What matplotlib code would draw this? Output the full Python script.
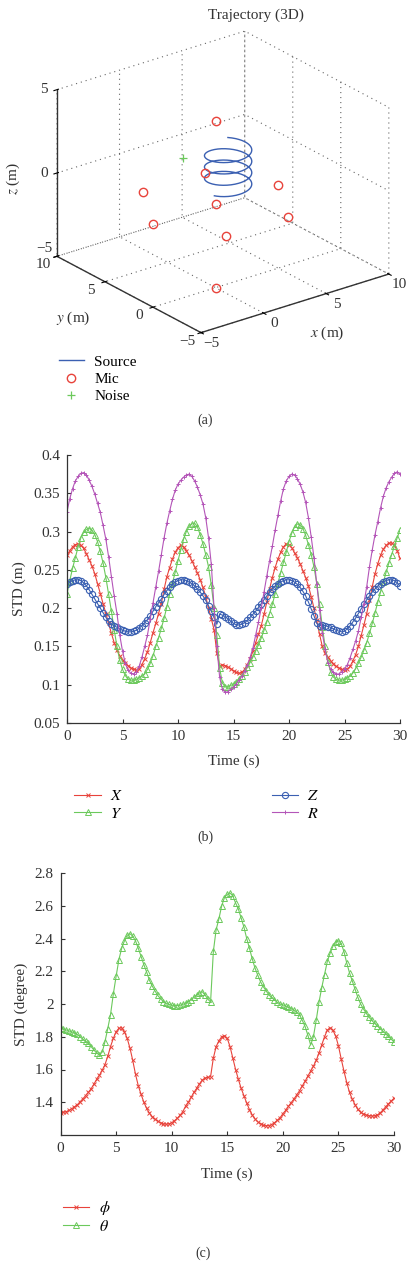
import numpy as np
import matplotlib.pyplot as plt
from matplotlib.ticker import FormatStrFormatter, NullFormatter
from mpl_toolkits.mplot3d import proj3d

plt.rcParams['font.family'] = ['Liberation Serif', 'DejaVu Serif']
plt.rcParams['mathtext.fontset'] = 'stix'
plt.rcParams['font.size'] = 11
plt.rcParams['grid.linestyle'] = (0, (1, 3.5))
plt.rcParams['grid.color'] = '0.4'
plt.rcParams['grid.linewidth'] = 0.8

RED = '#e8433b'
GREEN = '#6cc95c'
BLUE = '#3b60b2'
PURPLE = '#b455b8'
TXT = '#333333'

# ---- (a) geometrie 3D ----
mic_x = [5, 2.5, -2.5, -5, -2.5, 2.5, 0, 0, 0]
mic_y = [0, 4.33, 4.33, 0, -4.33, -4.33, 0, 0, 0]
mic_z = [0, 0, 0, 0, 0, 0, 0, 5, -5]
noise_pos = (2.0, 6.0, 0.5)
# helice de la source : centre, rayon, hauteurs, nombre de tours
src_center = (1.0, 0.0)
src_radius = 1.5
src_z = (3.2, 0.75)
src_turns = 3.6
src_start_deg = 53
xy_ticks = [-5, 0, 5, 10]
z_ticks = [-5, 0, 5]

# ---- (b) STD position (m), pas de 0.25 s ----
t = np.linspace(0, 30, 121)
std_x = [0.269, 0.275, 0.280, 0.283, 0.284, 0.282, 0.278, 0.271, 0.263, 0.255, 0.245, 0.232, 0.219, 0.206, 0.193, 0.180,
         0.167, 0.155, 0.145, 0.138, 0.132, 0.128, 0.125, 0.122, 0.120, 0.119, 0.121, 0.126, 0.134, 0.143, 0.155, 0.168,
         0.180, 0.193, 0.206, 0.225, 0.241, 0.253, 0.264, 0.273, 0.279, 0.282, 0.280, 0.275, 0.269, 0.262, 0.254, 0.246,
         0.237, 0.227, 0.215, 0.200, 0.186, 0.172, 0.141, 0.125, 0.126, 0.125, 0.123, 0.121, 0.118, 0.116, 0.115, 0.116,
         0.120, 0.126, 0.133, 0.144, 0.155, 0.166, 0.177, 0.192, 0.208, 0.225, 0.240, 0.253, 0.264, 0.273, 0.280, 0.284,
         0.283, 0.279, 0.272, 0.266, 0.258, 0.249, 0.240, 0.229, 0.215, 0.200, 0.184, 0.166, 0.150, 0.141, 0.136, 0.131,
         0.127, 0.124, 0.122, 0.120, 0.119, 0.120, 0.124, 0.131, 0.139, 0.150, 0.164, 0.178, 0.193, 0.210, 0.228, 0.245,
         0.258, 0.269, 0.277, 0.282, 0.285, 0.285, 0.282, 0.275, 0.265]
std_y = [0.219, 0.236, 0.252, 0.266, 0.280, 0.292, 0.299, 0.303, 0.304, 0.302, 0.296, 0.287, 0.274, 0.259, 0.240, 0.218,
         0.196, 0.172, 0.150, 0.132, 0.120, 0.112, 0.107, 0.106, 0.106, 0.107, 0.109, 0.111, 0.114, 0.120, 0.128, 0.138,
         0.150, 0.161, 0.174, 0.187, 0.202, 0.218, 0.233, 0.247, 0.262, 0.276, 0.290, 0.300, 0.307, 0.310, 0.311, 0.306,
         0.296, 0.284, 0.270, 0.254, 0.230, 0.200, 0.165, 0.122, 0.102, 0.097, 0.097, 0.099, 0.101, 0.104, 0.108, 0.112,
         0.117, 0.123, 0.129, 0.136, 0.144, 0.152, 0.161, 0.171, 0.182, 0.193, 0.205, 0.219, 0.233, 0.246, 0.260, 0.273,
         0.287, 0.298, 0.306, 0.310, 0.309, 0.304, 0.295, 0.283, 0.270, 0.254, 0.232, 0.205, 0.176, 0.150, 0.130, 0.117,
         0.110, 0.107, 0.106, 0.106, 0.107, 0.109, 0.111, 0.115, 0.121, 0.128, 0.136, 0.145, 0.155, 0.167, 0.180, 0.194,
         0.208, 0.221, 0.234, 0.247, 0.259, 0.270, 0.281, 0.292, 0.302]
std_z = [0.231, 0.234, 0.236, 0.237, 0.237, 0.236, 0.233, 0.229, 0.224, 0.218, 0.212, 0.206, 0.200, 0.194, 0.188, 0.183,
         0.179, 0.177, 0.175, 0.173, 0.171, 0.170, 0.169, 0.169, 0.170, 0.171, 0.174, 0.177, 0.181, 0.185, 0.190, 0.196,
         0.202, 0.207, 0.212, 0.218, 0.223, 0.227, 0.231, 0.234, 0.236, 0.237, 0.237, 0.236, 0.234, 0.232, 0.229, 0.225,
         0.221, 0.216, 0.210, 0.203, 0.196, 0.188, 0.179, 0.192, 0.191, 0.189, 0.186, 0.183, 0.180, 0.178, 0.178, 0.179,
         0.181, 0.184, 0.188, 0.192, 0.196, 0.201, 0.206, 0.211, 0.216, 0.221, 0.225, 0.229, 0.232, 0.234, 0.236, 0.237,
         0.237, 0.236, 0.234, 0.231, 0.227, 0.222, 0.216, 0.208, 0.199, 0.190, 0.180, 0.177, 0.178, 0.177, 0.176, 0.175,
         0.173, 0.171, 0.170, 0.169, 0.170, 0.173, 0.177, 0.182, 0.187, 0.193, 0.199, 0.205, 0.211, 0.216, 0.221, 0.225,
         0.229, 0.232, 0.234, 0.236, 0.237, 0.237, 0.236, 0.233, 0.229]
std_r = [0.326, 0.343, 0.356, 0.366, 0.372, 0.376, 0.377, 0.374, 0.367, 0.359, 0.349, 0.337, 0.325, 0.308, 0.290, 0.267,
         0.241, 0.216, 0.193, 0.165, 0.144, 0.128, 0.119, 0.115, 0.114, 0.117, 0.124, 0.136, 0.150, 0.165, 0.186, 0.207,
         0.228, 0.248, 0.270, 0.292, 0.311, 0.327, 0.342, 0.354, 0.362, 0.367, 0.371, 0.374, 0.375, 0.372, 0.366, 0.358,
         0.348, 0.336, 0.318, 0.292, 0.257, 0.200, 0.150, 0.110, 0.094, 0.090, 0.091, 0.094, 0.097, 0.101, 0.106, 0.111,
         0.118, 0.126, 0.136, 0.148, 0.165, 0.182, 0.200, 0.221, 0.242, 0.262, 0.281, 0.302, 0.321, 0.340, 0.356, 0.366,
         0.372, 0.375, 0.374, 0.369, 0.362, 0.352, 0.338, 0.318, 0.293, 0.266, 0.232, 0.198, 0.168, 0.146, 0.129, 0.120,
         0.116, 0.114, 0.114, 0.117, 0.121, 0.126, 0.135, 0.146, 0.157, 0.170, 0.188, 0.206, 0.228, 0.254, 0.276, 0.296,
         0.313, 0.331, 0.346, 0.357, 0.365, 0.371, 0.376, 0.378, 0.375]

# ---- (c) STD angles (degree) ----
std_phi = [1.337, 1.338, 1.342, 1.350, 1.360, 1.372, 1.384, 1.402, 1.420, 1.440, 1.460, 1.482, 1.510, 1.540, 1.565, 1.595,
           1.630, 1.680, 1.740, 1.790, 1.830, 1.852, 1.855, 1.830, 1.790, 1.730, 1.655, 1.570, 1.500, 1.448, 1.400, 1.362,
           1.334, 1.312, 1.297, 1.284, 1.274, 1.268, 1.266, 1.268, 1.275, 1.287, 1.302, 1.320, 1.342, 1.376, 1.400, 1.430,
           1.460, 1.485, 1.512, 1.535, 1.548, 1.552, 1.556, 1.670, 1.740, 1.775, 1.800, 1.805, 1.790, 1.740, 1.670, 1.600,
           1.540, 1.485, 1.440, 1.395, 1.355, 1.322, 1.298, 1.280, 1.268, 1.260, 1.257, 1.258, 1.264, 1.275, 1.290, 1.305,
           1.330, 1.350, 1.375, 1.398, 1.420, 1.445, 1.470, 1.500, 1.528, 1.560, 1.590, 1.620, 1.655, 1.700, 1.750, 1.800,
           1.840, 1.855, 1.840, 1.805, 1.745, 1.665, 1.590, 1.520, 1.460, 1.418, 1.385, 1.356, 1.338, 1.328, 1.322, 1.318,
           1.316, 1.317, 1.322, 1.335, 1.352, 1.372, 1.390, 1.408, 1.424]
std_theta = [1.852, 1.848, 1.842, 1.836, 1.830, 1.824, 1.815, 1.800, 1.786, 1.772, 1.760, 1.740, 1.720, 1.700, 1.690, 1.706,
             1.770, 1.850, 1.935, 2.060, 2.168, 2.270, 2.340, 2.385, 2.420, 2.429, 2.415, 2.385, 2.340, 2.290, 2.240, 2.195,
             2.145, 2.110, 2.080, 2.052, 2.032, 2.015, 2.005, 1.998, 1.993, 1.990, 1.990, 1.992, 1.998, 2.005, 2.015, 2.027,
             2.040, 2.055, 2.068, 2.075, 2.055, 2.030, 2.012, 2.321, 2.454, 2.520, 2.600, 2.650, 2.670, 2.678, 2.660, 2.617,
             2.580, 2.525, 2.470, 2.400, 2.340, 2.275, 2.219, 2.175, 2.135, 2.105, 2.080, 2.055, 2.040, 2.025, 2.010, 2.000,
             1.995, 1.988, 1.980, 1.972, 1.964, 1.950, 1.934, 1.900, 1.863, 1.810, 1.750, 1.800, 1.900, 2.010, 2.100, 2.180,
             2.260, 2.310, 2.352, 2.380, 2.386, 2.370, 2.320, 2.250, 2.190, 2.140, 2.090, 2.040, 2.000, 1.970, 1.944, 1.920,
             1.900, 1.882, 1.866, 1.850, 1.834, 1.818, 1.802, 1.786, 1.767]

W, H = 413, 1261
fig = plt.figure(figsize=(W / 100, H / 100), dpi=100)


def rect(x0, y0, x1, y1):
    return [x0 / W, 1 - y1 / H, (x1 - x0) / W, (y1 - y0) / H]


def ftext(x, y, s, **kw):
    fig.text(x / W, 1 - y / H, s, ha='center', va='center', color=TXT, **kw)


def lab(v):
    return f'{v}'.replace('-', '\u2212')


# ================= (a) =================
ax3 = fig.add_axes(rect(18.5, 24.5, 416.5, 348), projection='3d')
ax3.apply_aspect = lambda position=None: None
ax3.set_proj_type('ortho')
ax3.view_init(elev=30, azim=-127.5)
ax3.set_box_aspect((1, 1, 1))

s = np.linspace(0, 1, 400)
ang = np.deg2rad(src_start_deg - 360 * src_turns * s)
ax3.plot(src_center[0] + src_radius * np.cos(ang), src_center[1] + src_radius * np.sin(ang),
         src_z[0] + (src_z[1] - src_z[0]) * s, color=BLUE, lw=1.0, label='Source')
ax3.plot(mic_x, mic_y, mic_z, ls='none', marker='o', ms=6, mfc='none', mec=RED, mew=1.0, label='Mic')
ax3.plot([noise_pos[0]], [noise_pos[1]], [noise_pos[2]], ls='none', marker='+', ms=6, color=GREEN, mew=0.9,
         label='Noise')

ax3.set_xlim(-5, 10)
ax3.set_ylim(-5, 10)
ax3.set_zlim(-5, 5)
ax3.set_xticks(xy_ticks)
ax3.set_yticks(xy_ticks)
ax3.set_zticks(z_ticks)
ax3.tick_params(labelsize=0, pad=0)
for axis in (ax3.xaxis, ax3.yaxis, ax3.zaxis):
    axis.set_major_formatter(NullFormatter())
    axis.set_pane_color((1, 1, 1, 0))
    axis.line.set_color(TXT)
    axis.line.set_linewidth(1.0)

# etiquettes des graduations, a la maniere de MATLAB (projetees en 2D)
M = ax3.get_proj()


def text3(x, y, z, s):
    px, py, _ = proj3d.proj_transform(x, y, z, M)
    ax3.text2D(px, py, s, transform=ax3.transData, ha='center', va='center', color=TXT, fontsize=11)


for v in xy_ticks:
    text3(v, -6.1, -5.3, lab(v))
    text3(-6.1, v, -5.25, lab(v))
for v in z_ticks:
    text3(-5.66, 10.49, v + (0.45 if v == -5 else 0), lab(v))

ftext(256, 15, 'Trajectory (3D)', fontsize=11)
ftext(327, 333, '$x$ (m)', fontsize=11)
ftext(73, 318, '$y$ (m)', fontsize=11)
ftext(13, 178, '$z$ (m)', fontsize=11, rotation=90)

fig.legend(handles=ax3.get_lines(), loc='upper left', bbox_to_anchor=(53 / W, 1 - 349 / H), frameon=False,
           fontsize=11, handlelength=1.6, handletextpad=0.7, labelspacing=0.22, borderaxespad=0)
ftext(205, 420, '(a)', fontsize=10)


def style2d(ax):
    for side in ('top', 'right'):
        ax.spines[side].set_visible(False)
    for side in ('left', 'bottom'):
        ax.spines[side].set_color(TXT)
        ax.spines[side].set_linewidth(0.9)
    ax.tick_params(direction='in', length=3, colors=TXT, labelsize=11, pad=5)


# ================= (b) =================
axb = fig.add_axes(rect(67, 455, 400, 723))
axb.plot(t, std_x, color=RED, lw=0.8, marker='x', ms=2.5, mew=0.7, label='$X$')
axb.plot(t, std_y, color=GREEN, lw=0.8, marker='^', ms=4.5, mfc='none', mew=0.7, label='$Y$')
axb.plot(t, std_z, color=BLUE, lw=0.8, marker='o', ms=4.5, mfc='none', mew=0.8, label='$Z$')
axb.plot(t, std_r, color=PURPLE, lw=0.8, marker='+', ms=3.5, mew=0.7, label='$R$')
axb.set_xlim(0, 30)
axb.set_ylim(0.05, 0.4)
axb.set_xticks(np.arange(0, 31, 5))
axb.set_yticks(np.arange(0.05, 0.401, 0.05))
axb.yaxis.set_major_formatter(FormatStrFormatter('%g'))
style2d(axb)
axb.set_xlabel('Time (s)', color=TXT, labelpad=8)
axb.set_ylabel('STD (m)', color=TXT, labelpad=5)
fig.legend(handles=axb.get_lines(), loc='upper left', bbox_to_anchor=(68 / W, 1 - 782 / H), ncol=2,
           frameon=False, fontsize=11.5, handlelength=1.65, handletextpad=0.55, labelspacing=0.1,
           columnspacing=9.35, borderaxespad=0)
ftext(205, 837, '(b)', fontsize=10)

# ================= (c) =================
axc = fig.add_axes(rect(60.5, 873, 394, 1135))
axc.plot(t, std_phi, color=RED, lw=0.8, marker='x', ms=2.5, mew=0.7, label=r'$\phi$')
axc.plot(t, std_theta, color=GREEN, lw=0.8, marker='^', ms=5, mfc='none', mew=0.7, label=r'$\theta$')
axc.set_xlim(0, 30)
axc.set_ylim(1.2, 2.8)
axc.set_xticks(np.arange(0, 31, 5))
axc.set_yticks(np.arange(1.4, 2.81, 0.2))
axc.yaxis.set_major_formatter(FormatStrFormatter('%g'))
style2d(axc)
axc.set_xlabel('Time (s)', color=TXT, labelpad=9)
axc.set_ylabel('STD (degree)', color=TXT, labelpad=5)
fig.legend(handles=axc.get_lines(), loc='upper left', bbox_to_anchor=(57 / W, 1 - 1193 / H), frameon=False,
           fontsize=11.5, handlelength=1.6, handletextpad=0.6, labelspacing=0.1, borderaxespad=0)
ftext(203, 1253, '(c)', fontsize=10)

fig.savefig('out.png', dpi=100)
